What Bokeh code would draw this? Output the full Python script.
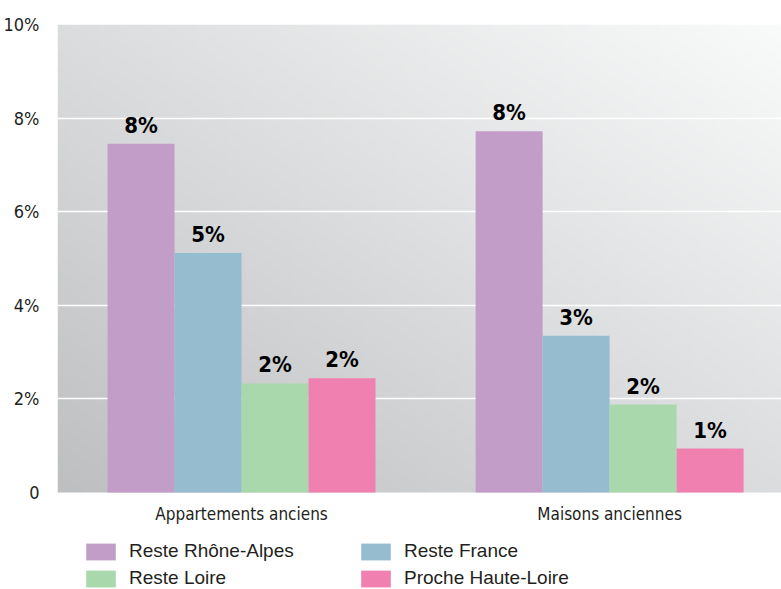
import numpy as np
from bokeh.plotting import figure
from bokeh.models import Range1d, FixedTicker, ColumnDataSource, Legend, LegendItem
from bokeh.core.properties import value
from bokeh.embed import file_html
from bokeh.resources import INLINE

categories = ["Appartements anciens", "Maisons anciennes"]
series_names = ["Reste Rhône-Alpes", "Reste France", "Reste Loire", "Proche Haute-Loire"]
series_colors = ["#c29dc8", "#96bccf", "#a9d8ac", "#f080b0"]
reste_rhone_alpes = [7.45, 7.72]
reste_france = [5.12, 3.35]
reste_loire = [2.33, 1.88]
proche_haute_loire = [2.44, 0.94]
label_rhone_alpes = ["8%", "8%"]
label_france = ["5%", "3%"]
label_loire = ["2%", "2%"]
label_haute_loire = ["2%", "1%"]
y_ticks = [0, 2, 4, 6, 8, 10]
y_tick_labels = ["0", "2%", "4%", "6%", "8%", "10%"]

series_values = [reste_rhone_alpes, reste_france, reste_loire, proche_haute_loire]
series_labels = [label_rhone_alpes, label_france, label_loire, label_haute_loire]

FONT = "DejaVu Sans Condensed"

W, H = 781, 589
top_border = 24
frame_h = H - top_border
px_per_unit = 46.8
x_lo, x_hi = -0.5, 1.467
y_hi = 10
y_lo = y_hi - frame_h / px_per_unit   # frame extends below 0 to hold labels and legend

p = figure(width=W, height=H, output_backend="svg", toolbar_location=None,
           x_range=Range1d(x_lo, x_hi), y_range=Range1d(y_lo, y_hi),
           min_border_left=57, min_border_right=0, min_border_top=top_border,
           min_border_bottom=0)
p.outline_line_color = None
p.background_fill_color = "white"

# diagonal gradient background over the plotting area (0..10)
ny, nx = 120, 200
u = np.linspace(0, 1, nx)[None, :]
v = np.linspace(0, 1, ny)[:, None]
t = 0.5 * u + 0.5 * v
g = 191 + 59 * t
r = np.clip(g - 1, 0, 255).astype(np.uint32)
gg = np.clip(g, 0, 255).astype(np.uint32)
b = np.clip(g + 2 - 2 * t, 0, 255).astype(np.uint32)
img = ((255 << 24) | (b << 16) | (gg << 8) | r).astype(np.uint32)
p.image_rgba(image=[img], x=x_lo, y=0, dw=x_hi - x_lo, dh=y_hi, level="image")

p.xgrid.visible = False
p.ygrid.ticker = FixedTicker(ticks=[t_ for t_ in y_ticks if 0 < t_ < 10])
p.ygrid.grid_line_color = "white"
p.ygrid.grid_line_width = 1.5

bw = 0.182
offsets = [-1.5 * bw, -0.5 * bw, 0.5 * bw, 1.5 * bw]
items = []
for name, color, vals, labs, off in zip(series_names, series_colors, series_values, series_labels, offsets):
    xs = [i + off for i in range(len(categories))]
    src = ColumnDataSource(dict(x=xs, top=vals, lab=labs))
    rnd = p.vbar(x="x", top="top", width=bw, source=src, fill_color=color, line_color=None)
    items.append(LegendItem(label=name, renderers=[rnd]))
    p.text(x="x", y="top", text="lab", source=src, text_align="center", text_baseline="bottom",
           y_offset=-6, text_font=value(FONT), text_font_style="bold", text_font_size="22px",
           text_color="black")

# category labels under the bars
cat_src = ColumnDataSource(dict(x=list(range(len(categories))), y=[0] * len(categories), c=categories))
p.text(x="x", y="y", text="c", source=cat_src, text_align="center", text_baseline="top",
       y_offset=11, text_font=value(FONT), text_font_size="17px", text_color="#231f20")
p.xaxis.visible = False

p.yaxis.ticker = FixedTicker(ticks=y_ticks)
p.yaxis.major_label_overrides = {t_: l for t_, l in zip(y_ticks, y_tick_labels)}
p.yaxis.axis_line_color = None
p.yaxis.major_tick_line_color = None
p.yaxis.minor_tick_line_color = None
p.yaxis.major_label_text_font = FONT
p.yaxis.major_label_text_color = "#231f20"
p.yaxis.major_label_text_font_size = "18px"
p.yaxis.major_label_standoff = 12

# column-major filling: order items so rows read RA, RF / RL, PHL
legend_items = [items[0], items[2], items[1], items[3]]
legend = Legend(items=legend_items, ncols=2, location=(25, 0),
                glyph_width=37, glyph_height=21, label_standoff=10,
                label_text_font="Liberation Sans", label_text_font_size="19px",
                label_text_color="#231f20", label_height=21, label_width=223,
                spacing=5, padding=0, margin=0, border_line_color=None,
                background_fill_alpha=0)
p.add_layout(legend, "center")

open("out.html", "w").write(file_html(p, INLINE))
